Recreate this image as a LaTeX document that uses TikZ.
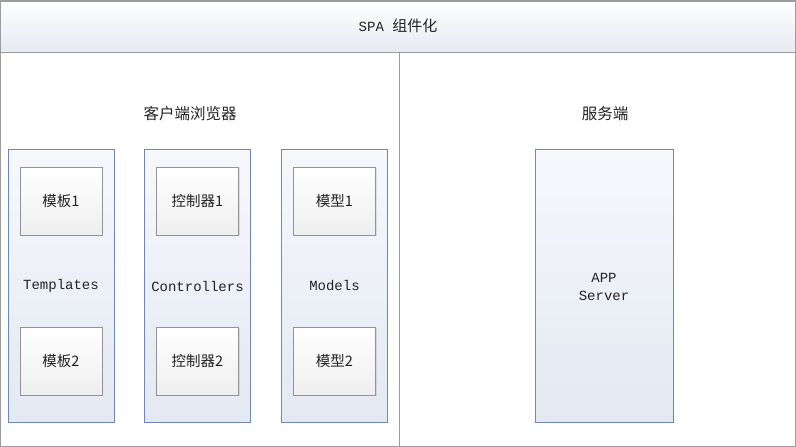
\documentclass[tikz,border=0pt]{standalone}
\usepackage{fontspec}
\setmonofont{Liberation Mono}
\newfontfamily\cjk{Noto Sans CJK SC}
\usepackage{tikz}
\usetikzlibrary{shadows}
\definecolor{frameblue}{HTML}{7086B4}
\definecolor{colTop}{HTML}{F6F8FC}
\definecolor{colBot}{HTML}{E3E9F2}
\definecolor{bandBot}{HTML}{E5EAF1}
\definecolor{lineGray}{HTML}{9C9C9C}
\definecolor{textGray}{HTML}{222222}
\tikzset{
    every node/.style={font=\fontsize{14}{16}\selectfont, text=textGray},
    colbox/.style={draw=frameblue, top color=colTop, bottom color=colBot,
        minimum width=106pt, minimum height=273pt, inner sep=0pt},
    itembox/.style={draw=gray!85, top color=white, bottom color=gray!13,
        minimum width=82pt, minimum height=68pt, inner sep=0pt,
        drop shadow={opacity=0.2, shadow xshift=1pt, shadow yshift=-1pt},
        font=\cjk\fontsize{14.5}{16}\selectfont}
}

\begin{document}
\begin{tikzpicture}[x=1pt, y=-1pt]
                \useasboundingbox (0,0) rectangle (796,447);

                % Title band
                \shade[top color=white, bottom color=bandBot] (0,1) rectangle (796,52);
                \node (title) at (398,26) {\ttfamily SPA {\cjk\fontsize{15}{16}\selectfont 组件化}};

                % Frame and divider
                \draw[lineGray, line width=1.2pt] (0,1) -- (796,1);
                \draw[lineGray, line width=1pt] (0.5,1) rectangle (795.5,446);
                \draw[lineGray, line width=1pt] (0,52) -- (796,52);
                \draw[lineGray, line width=1pt] (399,52) -- (399,446);

                % Headers
                \node[font=\cjk\fontsize{15.5}{16}\selectfont] (client) at (190,114) {客户端浏览器};
                \node[font=\cjk\fontsize{15.5}{16}\selectfont] (server) at (605,114) {服务端};

                % Client columns
                \foreach \name/\cx/\lab/\first/\second in {tpl/61/Templates/模板1/模板2,
                    ctl/197.5/Controllers/控制器1/控制器2, mdl/334.5/Models/模型1/模型2} {
                    \node[colbox] (\name) at (\cx,285.5) {};
                    \node[font=\ttfamily\fontsize{14}{16}\selectfont] (\name-lab) at (\cx,286) {\lab};
                    \node[itembox] (\name-1) at (\cx,201) {\first};
                    \node[itembox] (\name-2) at (\cx,361) {\second};
                }

                % Server box
                \node[colbox, minimum width=138pt] (app) at (604,285.5) {};
                \node[align=center, font=\ttfamily\fontsize{14}{18}\selectfont] (app-lab) at (604,287) {APP\\Server};
            \end{tikzpicture}
\end{document}
